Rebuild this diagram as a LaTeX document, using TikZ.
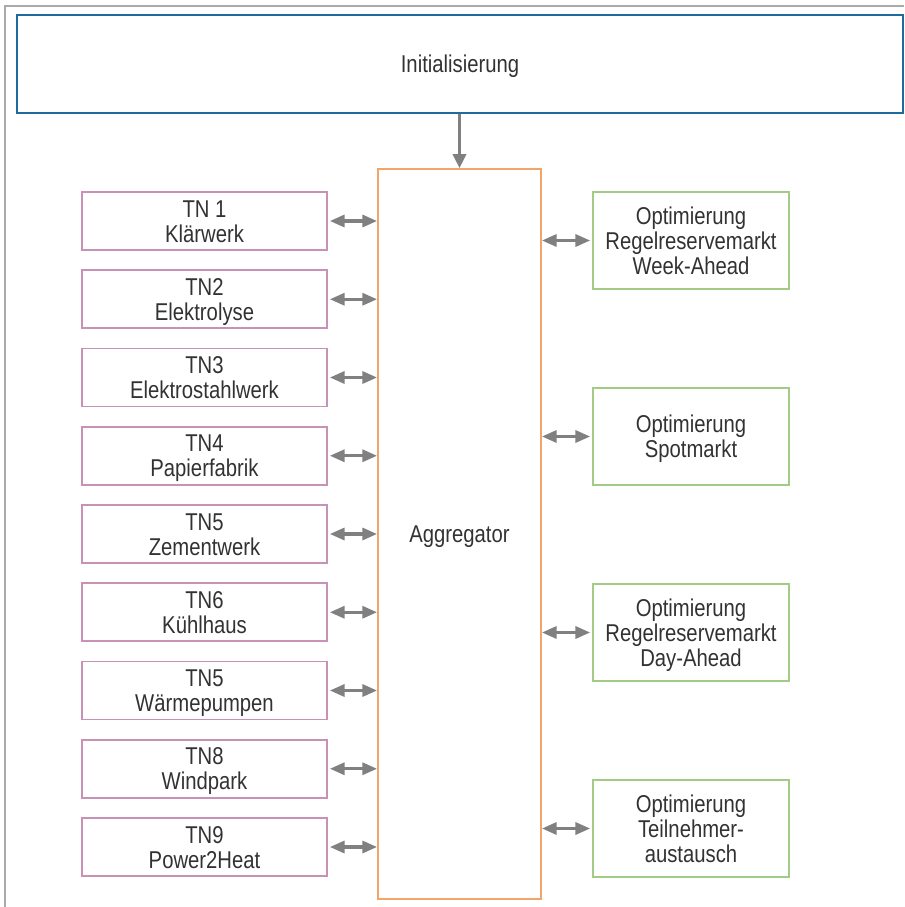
\documentclass[tikz,border=0pt]{standalone}
\usepackage{fontspec}
\usepackage{graphicx}
\setmainfont{Liberation Sans}
\usetikzlibrary{arrows.meta}
\definecolor{initblue}{RGB}{30,108,158}
\definecolor{aggorange}{RGB}{243,164,104}
\definecolor{tnpink}{RGB}{200,146,182}
\definecolor{optgreen}{RGB}{162,204,134}
\definecolor{arrgray}{RGB}{128,128,128}
\definecolor{framegray}{RGB}{170,170,170}
\definecolor{txt}{RGB}{50,50,50}
\newcommand\lbltext[1]{\raisebox{0pt}[\dimexpr\height+5.5pt\relax][\depth]{\scalebox{1}[1.2]{\begin{tabular}{@{}c@{}}#1\end{tabular}}}}
\begin{document}
\begin{tikzpicture}[x=0.75pt,y=-0.75pt,
  every node/.style={font=\fontsize{15.2}{15.6}\selectfont, text=txt, align=center, inner sep=0pt},
  initbox/.style={draw=initblue, line width=1.7pt, minimum width=664.5pt, minimum height=73.5pt},
  aggbox/.style={draw=aggorange, line width=1.4pt, minimum width=122.25pt, minimum height=547.5pt},
  tnbox/.style={draw=tnpink, line width=1.3pt, minimum width=183.75pt, minimum height=43.5pt},
  optbox/.style={draw=optgreen, line width=1.3pt, minimum width=147pt, minimum height=72.75pt},
  link/.style={draw=arrgray, line width=2.3pt, {Triangle[length=11pt,width=9pt]}-{Triangle[length=11pt,width=9pt]}},
  down/.style={draw=arrgray, line width=1.9pt, -{Triangle[length=10.5pt,width=10pt]}}
]
\useasboundingbox (0,0) rectangle (904,907);
\draw[framegray, line width=1.1pt] (5,907) -- (5,6) -- (904,6);

\node[initbox] (init) at (460,64) {\lbltext{Initialisierung}};
\node[aggbox] (agg) at (459.5,534) {\lbltext{Aggregator}};
\draw[down] (init.south -| agg.north) -- (agg.north);

\foreach \i/\t [count=\k from 0] in {1/{TN 1\\Klärwerk},2/{TN2\\Elektrolyse},3/{TN3\\Elektrostahlwerk},4/{TN4\\Papierfabrik},5/{TN5\\Zementwerk},6/{TN6\\Kühlhaus},7/{TN5\\Wärmepumpen},8/{TN8\\Windpark},9/{TN9\\Power2Heat}}{
  \node[tnbox] (tn\i) at (204.5,{221+78.25*\k}) {\lbltext{\t}};
  \draw[link] ([xshift=1.5pt]tn\i.east) -- (tn\i.east -| agg.west);
}

\foreach \i/\t [count=\k from 0] in {1/{Optimierung\\Regelreservemarkt\\Week-Ahead},2/{Optimierung\\Spotmarkt},3/{Optimierung\\Regelreservemarkt\\Day-Ahead},4/{Optimierung\\Teilnehmer-\\austausch}}{
  \node[optbox] (opt\i) at (691,{240.5+196*\k}) {\lbltext{\t}};
  \draw[link] (opt\i.west -| agg.east) -- ([xshift=-1.5pt]opt\i.west);
}
\end{tikzpicture}
\end{document}
